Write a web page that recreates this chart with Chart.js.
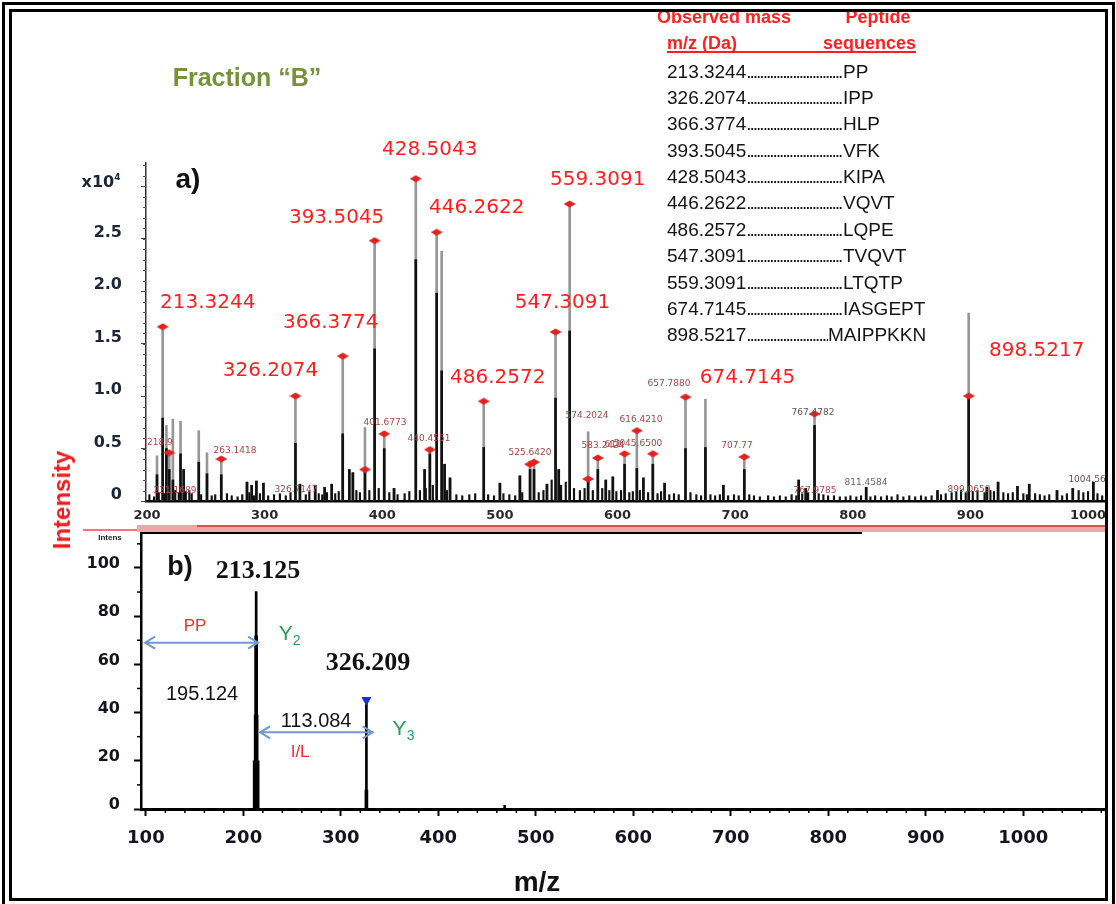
<!DOCTYPE html>
<html>
<head>
<meta charset="utf-8">
<title>Fraction B - MS spectrum</title>
<script src="https://cdn.jsdelivr.net/npm/chart.js@4.4.1/dist/chart.umd.min.js"></script>
<style>
html, body { margin: 0; padding: 0; background: #fff; }
#page { position: relative; width: 1116px; height: 904px; overflow: hidden; font-family: 'Liberation Sans', Arial, sans-serif; }
#page canvas { position: absolute; left: 0; top: 0; }
.frame { position: absolute; left: 2px; top: 2px; width: 1113px; height: 906px; border: 10px double #000; box-sizing: border-box; }
.txt { position: absolute; white-space: nowrap; line-height: 1; transform: translate(-50%, -50%); }
.ltxt { position: absolute; white-space: nowrap; line-height: 1; transform: translateY(-50%); }
.bar { position: absolute; }
.tbl-row { position: absolute; left: 667px; height: 20px; line-height: 20px; font-size: 19px; color: #141414; white-space: nowrap; }
.lead { display: inline-block; overflow: hidden; vertical-align: top; white-space: nowrap; }
.dots { letter-spacing: -2px; }
</style>
</head>
<body>
<div id="page">
  <canvas id="specA" width="1116" height="904"></canvas>
  <canvas id="specB" width="1116" height="904"></canvas>

  <div class="bar" style="left:83px;top:529px;width:54px;height:2px;background:#f07878"></div>
  <div class="bar" style="left:137px;top:525px;width:971px;height:7px;background:#f3a6a6"></div>
  <div class="bar" style="left:197px;top:525px;width:911px;height:2px;background:#d95050"></div>

  <div class="txt" style="left:247px;top:77px;font-size:25px;font-weight:bold;color:#76923c">Fraction “B”</div>
  <div class="txt" style="left:101px;top:181px;font-family:'DejaVu Sans';font-size:16px;font-weight:bold;color:#1c2536">x10<span style="font-size:9px;vertical-align:7px">4</span></div>
  <div class="txt" style="left:188px;top:179px;font-size:28px;font-weight:bold;color:#111">a)</div>
  <div class="txt" style="left:62px;top:500px;font-size:24px;font-weight:bold;color:#ee1c1c;transform:translate(-50%,-50%) rotate(-90deg)">Intensity</div>
  <div class="txt" style="left:537px;top:882px;font-size:28px;font-weight:bold;color:#111">m/z</div>

  <div class="ltxt" style="left:657px;top:17px;font-size:18px;font-weight:bold;color:#ff1f1f">Observed mass</div>
  <div class="txt" style="left:878px;top:17px;font-size:18px;font-weight:bold;color:#ff1f1f">Peptide</div>
  <div class="ltxt" style="left:667px;top:43px;font-size:18px;font-weight:bold;color:#ff1f1f">m/z (Da)</div>
  <div class="ltxt" style="left:823px;top:43px;font-size:18px;font-weight:bold;color:#ff1f1f">sequences</div>
  <div class="bar" style="left:667px;top:51px;width:249px;height:2px;background:#ff1f1f"></div>
  <div id="table"></div>

  <div class="frame"></div>
</div>
<script>
// ---------- panel a: MS spectrum (intensity x10^4) ----------
const peakMz = [208.5, 213.3244, 216.5, 218.9, 222, 228.5, 231.2, 244, 251, 263.1418,
  285, 289, 293, 299, 326.2074, 330, 343, 351, 357, 366.3774,
  372, 375, 385.3, 393.5045, 401.6773, 410, 428.5043, 436, 440.4551, 446.2622,
  450.5, 453, 457.6, 486.2572, 500, 517, 525.642, 529, 540, 547.3091,
  550, 559.3091, 575, 583.2424, 590, 596, 606, 616.421, 622, 630,
  640, 657.788, 674.7145, 690, 707.77, 754, 760, 767.4782, 811.4, 872,
  898.5217, 914, 923.5, 940, 950, 973.6, 987, 1004.5];
// full (grey) peak heights
const peakGrey = [0.43, 1.66, 0.72, 0.46, 0.78, 0.76, 0.30, 0.67, 0.46, 0.40,
  0.18, 0.15, 0.19, 0.17, 1.00, 0.16, 0.15, 0.13, 0.16, 1.38,
  0.30, 0.27, 0.70, 2.48, 0.64, 0.12, 3.07, 0.30, 0.49, 2.56,
  2.38, 0.35, 0.22, 0.95, 0.17, 0.24, 0.35, 0.37, 0.16, 1.61,
  0.30, 2.83, 0.66, 0.41, 0.20, 0.23, 0.45, 0.67, 0.22, 0.45,
  0.17, 0.99, 0.97, 0.15, 0.42, 0.20, 0.12, 0.83, 0.13, 0.10,
  1.79, 0.13, 0.18, 0.14, 0.16, 0.10, 0.12, 0.18];
// dark lower part of each peak
const peakBlack = [0.25, 0.79, 0.50, 0.30, 0.20, 0.45, 0.30, 0.37, 0.26, 0.25,
  0.18, 0.15, 0.19, 0.17, 0.55, 0.16, 0.15, 0.13, 0.16, 0.64,
  0.30, 0.27, 0.30, 1.45, 0.50, 0.12, 2.30, 0.30, 0.45, 1.98,
  1.24, 0.35, 0.22, 0.51, 0.17, 0.24, 0.30, 0.30, 0.16, 0.98,
  0.30, 1.62, 0.21, 0.30, 0.20, 0.23, 0.35, 0.31, 0.22, 0.35,
  0.17, 0.50, 0.51, 0.15, 0.30, 0.20, 0.12, 0.72, 0.13, 0.10,
  1.00, 0.13, 0.18, 0.14, 0.16, 0.10, 0.12, 0.18];

// baseline noise
const noiseMz = [202, 206, 210, 215, 224, 227, 233, 236, 238, 246,
  255, 258, 268, 272, 277, 281, 287, 291, 296, 303,
  308, 313, 318, 322, 335, 338, 346, 349, 353, 360,
  363, 378, 381, 389, 397, 406, 413, 419, 423, 432,
  437, 443, 455, 463, 468, 474, 479, 490, 495, 503,
  508, 513, 519, 533, 537, 544, 552, 556, 563, 568,
  572, 579, 587, 593, 599, 603, 610, 613, 619, 626,
  634, 637, 644, 648, 652, 662, 667, 671, 679, 683,
  687, 694, 699, 703, 712, 716, 721, 728, 733, 738,
  743, 748, 752, 757, 762, 771, 775, 779, 784, 789,
  794, 798, 803, 807, 815, 819, 824, 829, 833, 838,
  843, 848, 853, 858, 862, 867, 875, 879, 884, 888,
  892, 896, 902, 906, 912, 917, 920, 928, 932, 936,
  945, 948, 955, 959, 963, 967, 978, 982, 992, 996,
  1000, 1008, 1012];
const noiseVal = [0.06, 0.04, 0.08, 0.07, 0.10, 0.08, 0.09, 0.10, 0.07, 0.06,
  0.05, 0.06, 0.07, 0.05, 0.04, 0.06, 0.08, 0.05, 0.07, 0.05,
  0.06, 0.07, 0.05, 0.08, 0.06, 0.09, 0.07, 0.06, 0.08, 0.07,
  0.09, 0.10, 0.08, 0.10, 0.12, 0.08, 0.06, 0.07, 0.09, 0.10,
  0.12, 0.15, 0.10, 0.06, 0.05, 0.06, 0.07, 0.06, 0.05, 0.07,
  0.06, 0.05, 0.08, 0.08, 0.10, 0.20, 0.15, 0.18, 0.12, 0.10,
  0.12, 0.10, 0.12, 0.10, 0.09, 0.10, 0.08, 0.09, 0.10, 0.08,
  0.07, 0.09, 0.06, 0.07, 0.06, 0.08, 0.06, 0.05, 0.06, 0.05,
  0.06, 0.05, 0.06, 0.05, 0.06, 0.05, 0.04, 0.05, 0.04, 0.05,
  0.04, 0.06, 0.05, 0.07, 0.08, 0.07, 0.06, 0.05, 0.05, 0.04,
  0.04, 0.05, 0.04, 0.05, 0.04, 0.05, 0.04, 0.05, 0.04, 0.06,
  0.04, 0.05, 0.04, 0.05, 0.04, 0.05, 0.06, 0.07, 0.08, 0.09,
  0.10, 0.08, 0.09, 0.10, 0.08, 0.10, 0.09, 0.08, 0.07, 0.08,
  0.07, 0.06, 0.07, 0.06, 0.05, 0.06, 0.05, 0.07, 0.10, 0.08,
  0.09, 0.07, 0.05];

// peaks marked with a red diamond
const markMz = [213.3244, 218.9, 263.1418, 326.2074, 366.3774, 385.3, 393.5045, 401.6773, 428.5043, 440.4551,
  446.2622, 486.2572, 525.642, 529, 547.3091, 559.3091, 575, 583.2424, 606, 616.421,
  630, 657.788, 707.77, 767.4782, 898.5217];
const markVal = [1.66, 0.46, 0.40, 1.00, 1.38, 0.30, 2.48, 0.64, 3.07, 0.49,
  2.56, 0.95, 0.35, 0.37, 1.61, 2.83, 0.21, 0.41, 0.45, 0.67,
  0.45, 0.99, 0.42, 0.83, 1.00];

// big red m/z annotations
const bigLabels = ['213.3244', '326.2074', '366.3774', '393.5045', '428.5043', '446.2622',
  '486.2572', '547.3091', '559.3091', '674.7145', '898.5217'];
// small annotations: text, m/z and intensity of the label centre
const smallLabels = ['218.9', '231.1689', '263.1418', '326.7147', '401.6773', '440.4551', '525.6420',
  '574.2024', '583.2424', '616.4210', '611', '5045.6500', '657.7880', '707.77',
  '767.4782', '767.9785', '811.4584', '899.0659', '1004.56'];
const smallLabelMz = [211, 223.8, 274.8, 326.7, 402.3, 439.7, 525.6,
  574.1, 587.7, 619.9, 596.2, 617.4, 643.8, 701.6,
  766.2, 767.9, 811.2, 898.8, 999.1];
const smallLabelVal = [0.56, 0.095, 0.476, 0.105, 0.743, 0.59, 0.457,
  0.81, 0.524, 0.771, 0.533, 0.543, 1.114, 0.524,
  0.838, 0.095, 0.171, 0.105, 0.2];

// table
const observedMass = ['213.3244', '326.2074', '366.3774', '393.5045', '428.5043', '446.2622',
  '486.2572', '547.3091', '559.3091', '674.7145', '898.5217'];
const peptideSeq = ['PP', 'IPP', 'HLP', 'VFK', 'KIPA', 'VQVT', 'LQPE', 'TVQVT', 'LTQTP', 'IASGEPT', 'MAIPPKKN'];

// ---------- panel b: MS/MS of 213.125 ----------
const fragMz = [213.125, 326.209, 468];
const fragApex = [90.2, 45.2, 1.5];
const fragUpper = [71.8, 7.9, 0];
const fragLower = [39, 0, 0];
const fragBase = [20, 0, 0];
const fragMarked = [false, true, false];

// label offsets (px) from the top of the peak they name
const bigLabelOffset = [[45, -24], [-25, -25], [-12, -33], [-38, -23], [14, -29], [40, -24],
  [14, -23], [7, -29], [28, -24], [42, -21], [68, 38]];
const smallLabelColor = { '767.4782': '#555', '811.4584': '#666', '1004.56': '#6a4a6a' };

const pts = (xs, ys) => xs.map((x, i) => ({ x: x, y: ys[i] }));

const table = document.getElementById('table');
observedMass.forEach((m, i) => {
  const row = document.createElement('div');
  row.className = 'tbl-row';
  row.style.top = (61.7 + i * 26.35) + 'px';
  const lead = document.createElement('span');
  lead.className = 'lead';
  lead.style.width = (peptideSeq[i].length > 7 ? 161 : 176) + 'px';
  lead.innerHTML = m + '<span class="dots">' + '.'.repeat(70) + '</span>';
  row.appendChild(lead);
  row.appendChild(document.createTextNode(peptideSeq[i]));
  table.appendChild(row);
});

// red diamond used for marked peaks
const diamond = document.createElement('canvas');
diamond.width = 12;
diamond.height = 8;
const dctx = diamond.getContext('2d');
dctx.fillStyle = '#e3211d';
dctx.beginPath();
dctx.moveTo(0, 4); dctx.lineTo(6, 0.5); dctx.lineTo(12, 4); dctx.lineTo(6, 7.5);
dctx.closePath();
dctx.fill();

const annotA = {
  id: 'annotA',
  afterDatasetsDraw(chart) {
    const { ctx, chartArea: area, scales: { x, y } } = chart;
    ctx.save();
    // minor ticks on the intensity axis
    ctx.strokeStyle = '#555';
    ctx.lineWidth = 1;
    for (let v = 0.1; v < y.max; v += 0.1) {
      const py = Math.round(y.getPixelForValue(v)) + 0.5;
      ctx.beginPath(); ctx.moveTo(area.left - 3, py); ctx.lineTo(area.left, py); ctx.stroke();
    }
    // small labels, clipped to the plot
    ctx.save();
    ctx.beginPath();
    ctx.rect(area.left + 1, area.top, area.right - area.left, area.bottom - area.top);
    ctx.clip();
    ctx.font = '9px "DejaVu Sans"';
    ctx.textAlign = 'center';
    ctx.textBaseline = 'middle';
    smallLabels.forEach((t, i) => {
      ctx.fillStyle = smallLabelColor[t] || '#a64646';
      ctx.fillText(t, x.getPixelForValue(smallLabelMz[i]), y.getPixelForValue(smallLabelVal[i]));
    });
    ctx.restore();
    // big labels
    ctx.font = '20px "DejaVu Sans"';
    ctx.fillStyle = '#ff1e1e';
    ctx.textAlign = 'center';
    ctx.textBaseline = 'middle';
    bigLabels.forEach((t, i) => {
      const k = peakMz.indexOf(parseFloat(t));
      const px = x.getPixelForValue(peakMz[k]) + bigLabelOffset[i][0];
      const py = y.getPixelForValue(peakGrey[k]) + bigLabelOffset[i][1];
      ctx.fillText(t, px, py);
    });
    ctx.restore();
  }
};

new Chart(document.getElementById('specA'), {
  type: 'bar',
  data: {
    datasets: [
      { type: 'line', data: pts(markMz, markVal), showLine: false, pointStyle: diamond, pointRadius: 5, order: 0 },
      { data: pts(peakMz, peakBlack), backgroundColor: '#111', barThickness: 2, grouped: false, order: 1 },
      { data: pts(noiseMz, noiseVal), backgroundColor: '#111', barThickness: 1.5, grouped: false, order: 2 },
      { data: pts(peakMz, peakGrey), backgroundColor: '#979797', barThickness: 2, grouped: false, order: 3 }
    ]
  },
  options: {
    responsive: false,
    animation: false,
    devicePixelRatio: 1,
    events: [],
    layout: { padding: { left: 0, top: 163, right: 11, bottom: 373 } },
    plugins: { legend: { display: false }, tooltip: { enabled: false } },
    scales: {
      x: {
        type: 'linear', min: 199.15, max: 1014.4, offset: false,
        grid: { display: true, drawOnChartArea: false, drawTicks: false, offset: false },
        border: { display: true, color: '#000', width: 2.5 },
        ticks: { stepSize: 100, autoSkip: false, includeBounds: false, maxRotation: 0, padding: 7,
          color: '#2a2a2a', font: { family: 'DejaVu Sans', weight: 'bold', size: 13 },
          callback: v => String(v) },
        afterFit: s => { s.height = 30; }
      },
      y: {
        min: 0, max: 3.22,
        grid: { display: true, drawOnChartArea: false, tickLength: 5, tickColor: '#444', tickWidth: 1 },
        border: { display: true, color: '#333', width: 1.5 },
        ticks: { stepSize: 0.5, includeBounds: false, padding: 19, labelOffset: -6,
          color: '#1c2536', font: { family: 'DejaVu Sans', weight: 'bold', size: 16 },
          callback: v => (v === 0 ? '0' : v <= 2.5 ? v.toFixed(1) : '') },
        afterFit: s => { s.width = 146; }
      }
    }
  },
  plugins: [annotA]
});

// ---------- panel b annotations (data coordinates) ----------
const bTexts = [
  { t: 'b)', mz: 135.1, v: 100.0, font: 'bold 27px "Liberation Sans"', color: '#111' },
  { t: '213.125', mz: 215.1, v: 98.8, font: 'bold 26px "Liberation Serif"', color: '#111' },
  { t: '326.209', mz: 327.9, v: 60.6, font: 'bold 26px "Liberation Serif"', color: '#111' },
  { t: '195.124', mz: 157.6, v: 47.7, font: '20px "Liberation Sans"', color: '#111' },
  { t: '113.084', mz: 274.6, v: 36.1, font: '20px "Liberation Sans"', color: '#111' },
  { t: 'PP', mz: 150.5, v: 75.9, font: '17px "Liberation Sans"', color: '#ff2a2a' },
  { t: 'I/L', mz: 258.2, v: 23.7, font: '17px "Liberation Sans"', color: '#ff2a2a' }
];
const yIons = [{ t: 'Y', sub: '2', mz: 243.4, v: 72.4 }, { t: 'Y', sub: '3', mz: 360.2, v: 33.0 }];
const bArrows = [{ from: 99.2, to: 215.1, v: 69.0 }, { from: 217.1, to: 332.7, v: 31.8 }];

const annotB = {
  id: 'annotB',
  afterDatasetsDraw(chart) {
    const { ctx, chartArea: area, scales: { x, y } } = chart;
    ctx.save();
    // top edge of the box
    ctx.strokeStyle = '#000';
    ctx.lineWidth = 2;
    ctx.beginPath(); ctx.moveTo(area.left, area.top); ctx.lineTo(862, area.top); ctx.stroke();
    // minor ticks
    ctx.lineWidth = 1.5;
    for (let v = 10; v < y.max; v += 20) {
      const py = y.getPixelForValue(v);
      ctx.beginPath(); ctx.moveTo(area.left - 4, py); ctx.lineTo(area.left, py); ctx.stroke();
    }
    for (let m = 100; m < x.max; m += 20) {
      if (m % 100 === 0) continue;
      const px = x.getPixelForValue(m);
      ctx.beginPath(); ctx.moveTo(px, area.bottom); ctx.lineTo(px, area.bottom + 4); ctx.stroke();
    }
    // double arrows
    ctx.strokeStyle = '#7398cf';
    ctx.lineWidth = 2;
    bArrows.forEach(a => {
      const x1 = x.getPixelForValue(a.from), x2 = x.getPixelForValue(a.to), py = y.getPixelForValue(a.v);
      ctx.beginPath();
      ctx.moveTo(x1, py); ctx.lineTo(x2, py);
      ctx.moveTo(x1 + 10, py - 6); ctx.lineTo(x1, py); ctx.lineTo(x1 + 10, py + 6);
      ctx.moveTo(x2 - 10, py - 6); ctx.lineTo(x2, py); ctx.lineTo(x2 - 10, py + 6);
      ctx.stroke();
    });
    ctx.textAlign = 'center';
    ctx.textBaseline = 'middle';
    bTexts.forEach(o => {
      ctx.font = o.font;
      ctx.fillStyle = o.color;
      ctx.fillText(o.t, x.getPixelForValue(o.mz), y.getPixelForValue(o.v));
    });
    yIons.forEach(o => {
      const px = x.getPixelForValue(o.mz), py = y.getPixelForValue(o.v);
      ctx.fillStyle = '#22a052';
      ctx.font = '21px "Liberation Sans"';
      ctx.fillText(o.t, px, py);
      ctx.font = '14px "Liberation Sans"';
      ctx.fillStyle = '#1f9a78';
      ctx.fillText(o.sub, px + 11, py + 7);
    });
    // axis caption stub
    ctx.font = 'bold 8px "Liberation Sans"';
    ctx.fillStyle = '#222';
    ctx.fillText('Intens', area.left - 31, area.top + 5);
    ctx.restore();
  }
};

new Chart(document.getElementById('specB'), {
  type: 'bar',
  data: {
    datasets: [
      { type: 'line', data: pts(fragMz.filter((m, i) => fragMarked[i]), fragApex.filter((v, i) => fragMarked[i])),
        showLine: false, pointStyle: 'triangle', rotation: 180, pointRadius: 5,
        backgroundColor: '#1a30c8', borderColor: '#1a30c8', order: 0 },
      { data: pts(fragMz, fragBase), backgroundColor: '#000', barThickness: 6, grouped: false, order: 1 },
      { data: pts(fragMz, fragLower), backgroundColor: '#000', barThickness: 4, grouped: false, order: 2 },
      { data: pts(fragMz, fragUpper), backgroundColor: '#000', barThickness: 3, grouped: false, order: 3 },
      { data: pts(fragMz, fragApex), backgroundColor: '#000', barThickness: 2, grouped: false, order: 4 }
    ]
  },
  options: {
    responsive: false,
    animation: false,
    devicePixelRatio: 1,
    events: [],
    layout: { padding: { left: 0, top: 533, right: 12, bottom: 55 } },
    plugins: { legend: { display: false }, tooltip: { enabled: false } },
    scales: {
      x: {
        type: 'linear', min: 95, max: 1082.8, offset: false,
        grid: { display: true, drawOnChartArea: false, offset: false, tickLength: 7, tickWidth: 2, tickColor: '#000' },
        border: { display: true, color: '#000', width: 3 },
        ticks: { stepSize: 100, autoSkip: false, includeBounds: false, maxRotation: 0, padding: 12,
          color: '#14141e', font: { family: 'DejaVu Sans', weight: 'bold', size: 18 },
          callback: v => String(v) },
        afterFit: s => { s.height = 40; }
      },
      y: {
        min: 0, max: 114.5,
        grid: { display: true, drawOnChartArea: false, tickLength: 7, tickWidth: 2, tickColor: '#000' },
        border: { display: true, color: '#000', width: 2.5 },
        ticks: { stepSize: 20, includeBounds: false, padding: 14, labelOffset: -4,
          color: '#14141e', font: { family: 'DejaVu Sans', weight: 'bold', size: 16 } },
        afterFit: s => { s.width = 141; }
      }
    }
  },
  plugins: [annotB]
});
</script>
</body>
</html>
